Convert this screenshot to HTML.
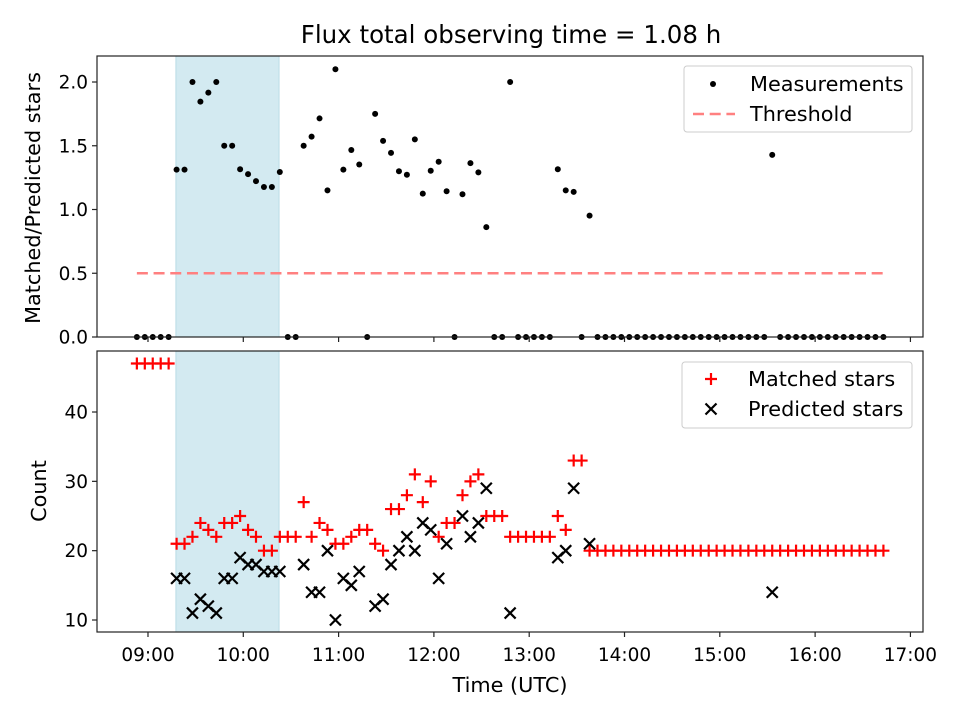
<!DOCTYPE html>
<html><head><meta charset="utf-8"><style>
body{margin:0;background:#fff;}
svg{display:block;font-family:"DejaVu Sans","Liberation Sans",sans-serif;}
</style></head><body>
<svg id="chart" width="960" height="720" viewBox="0 0 960 720">
<rect width="960" height="720" fill="#fff"/>
<text x="511" y="43" text-anchor="middle" font-size="24.5">Flux total observing time = 1.08 h</text>
<g id="top"></g>
<g id="bot"></g>
<text transform="translate(40,198) rotate(-90)" text-anchor="middle" font-size="20.8">Matched/Predicted stars</text>
<text transform="translate(46,491) rotate(-90)" text-anchor="middle" font-size="20.8">Count</text>
<text x="510" y="692" text-anchor="middle" font-size="20.8">Time (UTC)</text>
</svg>
<script>
const startMinutes = 533; // 08:53
const stepMinutes = 5;
const matched = [47,47,47,47,47,21,21,22,24,23,22,24,24,25,23,22,20,20,22,22,
22,27,22,24,23,21,21,22,23,23,21,20,26,26,28,31,27,30,22,24,
24,28,30,31,25,25,25,22,22,22,22,22,22,25,23,33,33,20,20,20,
20,20,20,20,20,20,20,20,20,20,20,20,20,20,20,20,20,20,20,20,
20,20,20,20,20,20,20,20,20,20,20,20,20,20,20];
const predicted = [null,null,null,null,null,16,16,11,13,12,11,16,16,19,18,18,17,17,17,null,
null,18,14,14,20,10,16,15,17,null,12,13,18,20,22,20,24,23,16,21,
null,25,22,24,29,null,null,11,null,null,null,null,null,19,20,29,null,21,null,null,
null,null,null,null,null,null,null,null,null,null,null,null,null,null,null,null,null,null,null,null,
14,null,null,null,null,null,null,null,null,null,null,null,null,null,null];
const threshold = 0.5;
const shadeStart = 9.293, shadeEnd = 10.375;
const xTickLabels = ["09:00","10:00","11:00","12:00","13:00","14:00","15:00","16:00","17:00"];
const topTicks = [0,0.5,1.0,1.5,2.0];
const botTicks = [10,20,30,40];

const NS="http://www.w3.org/2000/svg";
const L=97,R=923;
const xMin=8.465,xMax=17.132;
const X=h=>L+(h-xMin)/(xMax-xMin)*(R-L);
const T={top:56,bot:337,min:0,max:2.204};
const B={top:351,bot:632,min:8.27,max:48.8};
const Y=(p,v)=>p.bot-(v-p.min)/(p.max-p.min)*(p.bot-p.top);
function mk(tag,attrs,parent){const e=document.createElementNS(NS,tag);for(const k in attrs)e.setAttribute(k,attrs[k]);parent.appendChild(e);return e;}
const times=matched.map((_,i)=>(startMinutes+i*stepMinutes)/60);
const ratio=matched.map((m,i)=>predicted[i]?m/predicted[i]:0);

function frame(g,p,ticks,fmt,labels){
  const sh=mk('rect',{x:X(shadeStart),y:p.top,width:X(shadeEnd)-X(shadeStart),height:p.bot-p.top,fill:'rgb(211,234,241)',stroke:'rgb(185,220,230)','stroke-width':1},g);
  
  
  ticks.forEach(v=>{const y=Y(p,v);
    mk('line',{x1:L-5,x2:L,y1:y,y2:y,stroke:'#222','stroke-width':1.2},g);
    const t=mk('text',{x:L-9,y:y+6.5,'text-anchor':'end','font-size':18.5},g);t.textContent=fmt(v);
    
    });
  xTickLabels.forEach(s=>{const [h,m]=s.split(':').map(Number);const x=X(h+m/60);
    mk('line',{x1:x,x2:x,y1:p.bot,y2:p.bot+5,stroke:'#222','stroke-width':1.2},g);
    if(labels){const t=mk('text',{x:x,y:p.bot+29,'text-anchor':'middle','font-size':18.5},g);t.textContent=s;
      
      }});
}
const gt=document.getElementById('top'),gb=document.getElementById('bot');
frame(gt,T,topTicks,v=>v.toFixed(1),false);
frame(gb,B,botTicks,v=>String(v),true);
const th=mk('line',{x1:X(times[0]),x2:X(times[times.length-1]),y1:Y(T,threshold),y2:Y(T,threshold),stroke:'#ff8080','stroke-width':2.5,'stroke-dasharray':'11,5.7'},gt);


ratio.forEach((v,i)=>{const c=mk('circle',{cx:X(times[i]),cy:Y(T,v),r:3,fill:'#000'},gt);
  
  });
matched.forEach((v,i)=>{const x=X(times[i]),y=Y(B,v);
  const p=mk('path',{d:`M${x-6},${y}H${x+6}M${x},${y-6}V${y+6}`,stroke:'#f00','stroke-width':2.2},gb);
  
  });
predicted.forEach((v,i)=>{if(v==null)return;const x=X(times[i]),y=Y(B,v),s=5.5;
  const p=mk('path',{d:`M${x-s},${y-s}L${x+s},${y+s}M${x-s},${y+s}L${x+s},${y-s}`,stroke:'#000','stroke-width':2.2},gb);
  
  });
[gt,gb].forEach((g,j)=>{const p=j?B:T;mk('rect',{x:L,y:p.top,width:R-L,height:p.bot-p.top,fill:'none',stroke:'#222','stroke-width':1.2},g);});
function legend(g,x,y,w,h,name){const r=mk('rect',{x,y,width:w,height:h,rx:3,fill:'#fff','fill-opacity':0.8,stroke:'#ccc'},g);
  
  }
legend(gt,684,66,228,66,'top-legend');
mk('circle',{cx:713,cy:84,r:3,fill:'#000'},gt);
let t=mk('text',{x:750,y:91,'font-size':20.8},gt);t.textContent='Measurements';


mk('line',{x1:693,x2:735,y1:114,y2:114,stroke:'#ff8080','stroke-width':2.5,'stroke-dasharray':'11,5.7'},gt);
t=mk('text',{x:750,y:121,'font-size':20.8},gt);t.textContent='Threshold';


legend(gb,682,362,230,66,'bottom-legend');
mk('path',{d:'M705,379H717M711,373V385',stroke:'#f00','stroke-width':2.2},gb);
t=mk('text',{x:748,y:386,'font-size':20.8},gb);t.textContent='Matched stars';


mk('path',{d:'M705.5,403.5L716.5,414.5M705.5,414.5L716.5,403.5',stroke:'#000','stroke-width':2.2},gb);
t=mk('text',{x:748,y:416,'font-size':20.8},gb);t.textContent='Predicted stars';


</script>
</body></html>
